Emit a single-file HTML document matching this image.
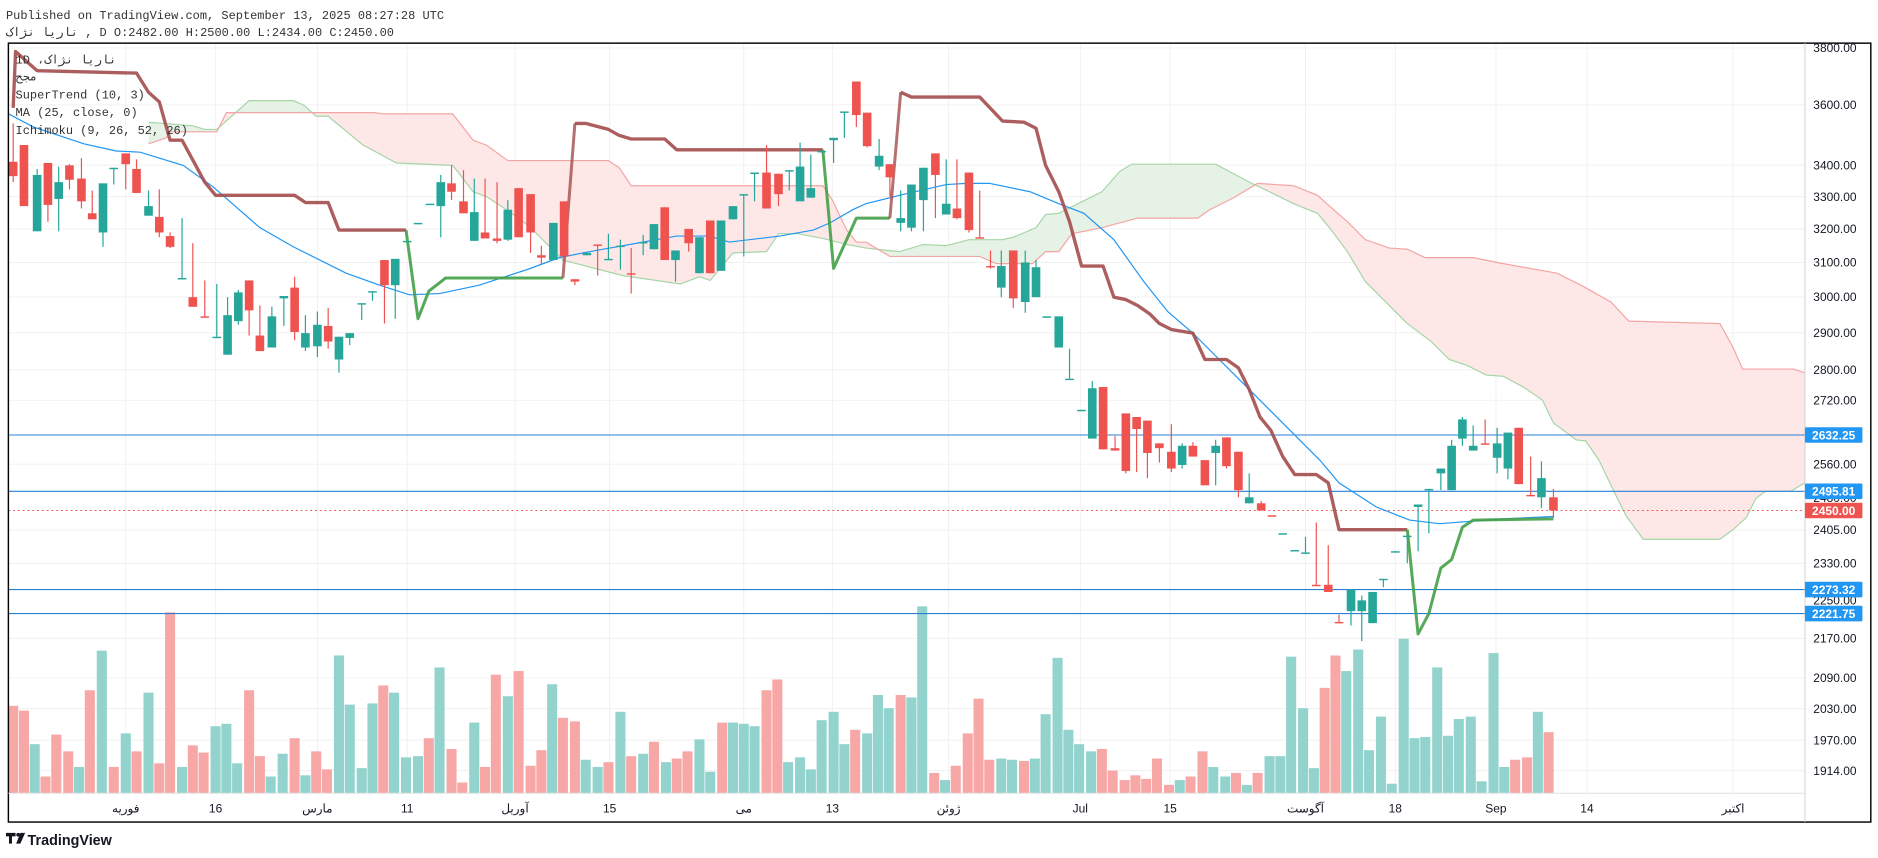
<!DOCTYPE html>
<html><head><meta charset="utf-8"><style>
html,body{margin:0;padding:0;background:#fff;width:1878px;height:858px;overflow:hidden;}
svg{display:block;position:absolute;left:0;top:0;overflow:hidden;}
.mono{font-family:"Liberation Mono","DejaVu Sans Mono","Noto Sans CJK SC",monospace;}
.sans{font-family:"Liberation Sans","DejaVu Sans",sans-serif;}
</style></head><body>
<svg id="s" width="1878" height="858" viewBox="0 0 1568 716" preserveAspectRatio="none" xmlns="http://www.w3.org/2000/svg">
<rect width="1568" height="716" fill="#fff"/>
<text class="mono" x="5" y="16" font-size="10" fill="#333">Published on TradingView.com, September 13, 2025 08:27:28 UTC</text>
<text class="mono" x="5" y="30" font-size="10" fill="#333">ناریا نژاک , D O:2482.00 H:2500.00 L:2434.00 C:2450.00</text>
<g id="grid"></g>
<defs>
<clipPath id="plot"><rect x="7" y="36" width="1500" height="626"/></clipPath>
<clipPath id="belowB"><polygon id="cbB"/></clipPath>
<clipPath id="aboveB"><polygon id="caB"/></clipPath>
</defs>
<g clip-path="url(#plot)">
<g id="cloud"></g>
<g id="vol"></g>
<g id="hl"></g>
<g id="ma"></g>
<g id="st"></g>
<g id="cndl"></g>
</g>
<rect x="7" y="36" width="1555" height="650" fill="none" stroke="#000" stroke-width="1.2"/>
<line x1="1507" y1="36" x2="1507" y2="686" stroke="#d0d0d0" stroke-width="0.8"/>
<line x1="7" y1="662" x2="1507" y2="662" stroke="#e0e0e0" stroke-width="0.8"/>
<g id="axis"></g>
<g class="mono" font-size="10" fill="#333">
<text x="13" y="53">1D ،ناریا نژاک</text>
<text x="13" y="67">مجح</text>
<text x="13" y="82">SuperTrend (10, 3)</text>
<text x="13" y="97">MA (25, close, 0)</text>
<text x="13" y="112">Ichimoku (9, 26, 52, 26)</text>
</g>
<g transform="translate(5,695)">
<path d="M0 0h8v3h-3v6h-2.5v-6h-2.5z" fill="#131722"/>
<circle cx="10.2" cy="1.6" r="1.6" fill="#131722"/>
<path d="M12 0h4l-4 9h-3.5z" fill="#131722"/>
</g>
<text class="sans" x="23" y="705" font-size="12" font-weight="bold" fill="#131722">TradingView</text>
</svg>
<script>
const NS="http://www.w3.org/2000/svg";
function el(p,t,a,txt){const e=document.createElementNS(NS,t);for(const k in a)e.setAttribute(k,a[k]);if(txt!==undefined)e.textContent=txt;document.getElementById(p).appendChild(e);return e;}
const Y=p=>40+879.4*(Math.log(3800)-Math.log(p));
const ticks=[3800,3600,3400,3300,3200,3100,3000,2900,2800,2720,2560,2405,2330,2170,2090,2030,1970,1914];
ticks.forEach(p=>{const y=Y(p);el("grid","line",{x1:7,x2:1507,y1:y,y2:y,stroke:"#f0f0f0","stroke-width":0.8});
 el("axis","text",{x:1514,y:y+3.5,"font-size":10,fill:"#131722","font-family":"Liberation Sans,sans-serif"},p.toFixed(2));});
const dates=[[105,"فوریه"],[180,"16"],[265,"مارس"],[340,"11"],[430,"آوریل"],[509,"15"],[621,"می"],[695,"13"],[792,"ژوئن"],[902,"Jul"],[977,"15"],[1090,"آگوست"],[1165,"18"],[1249,"Sep"],[1325,"14"],[1447,"اکتبر"]];
dates.forEach(d=>{el("grid","line",{x1:d[0],x2:d[0],y1:36,y2:662,stroke:"#f0f0f0","stroke-width":0.8});
 el("axis","text",{x:d[0],y:678,"font-size":10,fill:"#131722","text-anchor":"middle","font-family":"Liberation Sans,Noto Sans CJK SC,sans-serif"},d[1]);});
const A=[[124,102],[161,105],[171,108],[181,108],[208,84],[245,84],[254,88],[264,97],[274,97],[303,121],[331,136],[378,138],[395,160],[406,164],[423,175],[442,189],[456,203],[470,217],[520,230],[568,237],[584,231],[593,234],[612,211],[640,210],[650,195],[666,195],[687,199],[707,204],[723,207],[751,210],[771,204],[790,205],[809,200],[837,200],[846,198],[865,190],[873,179],[884,178],[900,170],[920,160],[935,143],[945,137],[1015,137],[1030,145],[1045,153],[1060,160],[1080,170],[1100,178],[1110,190],[1125,210],[1140,235],[1160,255],[1175,270],[1195,285],[1210,300],[1225,305],[1241,313],[1255,314],[1272,323],[1288,334],[1297,353],[1316,367],[1324,368],[1335,384],[1347,409],[1358,431],[1372,450],[1436,450],[1447,442],[1458,432],[1466,416],[1474,410],[1495,410],[1507,403]];
const B=[[124,120],[139,115],[142,110],[181,110],[189,94],[312,94],[320,95],[378,95],[395,117],[406,121],[424,134],[508,134],[517,140],[527,155],[687,155],[695,167],[707,192],[715,202],[723,202],[743,214],[818,214],[832,220],[862,220],[873,210],[884,210],[895,195],[920,190],[950,182],[1000,182],[1010,175],[1030,165],[1050,153],[1080,155],[1100,163],[1110,172],[1125,185],[1140,200],[1160,207],[1175,208],[1190,215],[1230,215],[1255,220],[1300,228],[1320,238],[1345,252],[1360,268],[1436,270],[1447,290],[1455,308],[1497,308],[1507,311]];
const pts=a=>a.map(p=>p.join(",")).join(" ");
document.getElementById("cbB").setAttribute("points",pts(B)+" 1507,690 124,690");
document.getElementById("caB").setAttribute("points",pts(B)+" 1507,40 124,40");
el("cloud","polygon",{points:pts(A)+" 1507,690 124,690",fill:"#e6f2e5","clip-path":"url(#aboveB)"});
el("cloud","polygon",{points:pts(A)+" 1507,40 124,40",fill:"#fde8e7","clip-path":"url(#belowB)"});
el("cloud","polyline",{points:pts(A),fill:"none",stroke:"#a5d6a7","stroke-width":1});
el("cloud","polyline",{points:pts(B),fill:"none",stroke:"#f3a5a3","stroke-width":1});
const V=[[11,589,'r'],[20,593,'r'],[29,621,'g'],[38,648,'r'],[47,613,'r'],[57,627,'r'],[66,640,'g'],[75,576,'r'],[85,543,'g'],[95,640,'r'],[105,612,'g'],[114,627,'r'],[124,578,'g'],[133,637,'r'],[142,511,'r'],[152,640,'g'],[161,622,'r'],[170,628,'r'],[180,606,'g'],[189,604,'g'],[198,637,'g'],[208,576,'r'],[217,631,'r'],[226,648,'g'],[236,629,'g'],[246,616,'r'],[255,647,'g'],[264,627,'r'],[273,642,'r'],[283,547,'g'],[292,588,'g'],[302,641,'g'],[311,587,'g'],[320,572,'r'],[329,578,'g'],[339,632,'g'],[349,631,'g'],[358,616,'r'],[367,557,'g'],[377,625,'r'],[386,653,'r'],[396,603,'g'],[405,640,'r'],[414,563,'r'],[424,581,'g'],[433,560,'r'],[443,639,'r'],[452,626,'r'],[461,571,'g'],[470,599,'r'],[480,602,'r'],[489,634,'g'],[499,640,'g'],[508,636,'r'],[518,594,'g'],[527,631,'r'],[537,629,'g'],[546,619,'r'],[556,636,'g'],[565,633,'r'],[574,627,'r'],[584,617,'g'],[593,644,'g'],[603,603,'r'],[612,603,'g'],[621,604,'g'],[630,606,'g'],[640,576,'r'],[649,567,'r'],[658,636,'g'],[668,632,'g'],[677,642,'g'],[686,601,'g'],[696,594,'g'],[705,621,'g'],[714,609,'r'],[724,612,'g'],[733,580,'g'],[742,591,'g'],[752,580,'r'],[761,582,'g'],[770,506,'g'],[780,645,'r'],[789,651,'g'],[798,639,'r'],[808,612,'r'],[817,583,'r'],[826,634,'r'],[836,633,'g'],[845,634,'g'],[855,635,'r'],[864,633,'g'],[873,596,'g'],[883,549,'g'],[892,609,'g'],[901,621,'g'],[911,627,'g'],[920,625,'r'],[929,643,'r'],[939,651,'r'],[948,647,'r'],[957,650,'r'],[966,633,'r'],[976,655,'r'],[985,651,'g'],[994,648,'r'],[1004,627,'r'],[1013,640,'g'],[1023,648,'g'],[1032,645,'r'],[1041,655,'g'],[1050,645,'r'],[1060,631,'g'],[1069,631,'g'],[1078,548,'g'],[1088,591,'g'],[1097,641,'g'],[1106,574,'r'],[1115,547,'r'],[1124,560,'g'],[1134,542,'g'],[1143,626,'g'],[1153,598,'g'],[1162,654,'g'],[1172,533,'g'],[1181,616,'g'],[1190,615,'g'],[1200,557,'g'],[1209,614,'g'],[1218,600,'g'],[1228,598,'g'],[1237,652,'g'],[1247,545,'g'],[1256,640,'g'],[1265,634,'r'],[1275,632,'r'],[1284,594,'g'],[1293,611,'r']];
V.forEach(v=>el("vol","rect",{x:v[0]-4.2,y:v[1],width:8.4,height:662-v[1],fill:v[2]=='g'?"#92d3cd":"#f7a8a6"}));
[[363,"#2a7fd5"],[410,"#2a7fd5"],[492,"#2a7fd5"],[512,"#2a7fd5"]].forEach(h=>el("hl","line",{x1:7,x2:1507,y1:h[0],y2:h[0],stroke:h[1],"stroke-width":0.9}));
el("hl","line",{x1:7,x2:1507,y1:426,y2:426,stroke:"#ef5350","stroke-width":0.9,"stroke-dasharray":"1.5 2.5"});
const MA=[[7,95],[28,106],[70,120],[97,126],[117,127],[153,138],[178,156],[217,190],[245,206],[289,228],[317,238],[342,246],[367,245],[400,238],[440,225],[467,215],[487,211],[509,207],[565,197],[592,197],[609,202],[651,197],[679,192],[693,186],[712,175],[723,170],[751,163],[790,154],[807,153],[826,153],[860,160],[884,170],[905,178],[930,200],[955,235],[975,260],[996,278],[1050,332],[1102,384],[1118,403],[1149,423],[1177,434],[1202,437],[1255,433],[1297,431]];
el("ma","polyline",{points:pts(MA),fill:"none",stroke:"#2196f3","stroke-width":1});
const R1=[[11,90],[13,43],[31,59],[114,61],[124,77],[133,85],[142,117],[152,117],[171,152],[180,163],[246,163],[255,169],[274,169],[283,192],[339,192]];
const G1=[[339,192],[349,266],[358,243],[372,232],[470,232]];
const R2=[[480,103],[489,103],[508,108],[517,113],[527,116],[555,116],[565,125],[687,125]];
const G2=[[687,125],[696,224],[715,182],[743,182]];
const R3=[[752,77],[761,81],[818,81],[837,101],[855,102],[865,107],[873,138],[884,160],[893,185],[903,222],[921,222],[930,248],[940,250],[950,255],[960,262],[968,270],[978,275],[996,278],[1006,300],[1024,300],[1034,307],[1043,325],[1052,348],[1061,359],[1071,381],[1081,396],[1099,396],[1109,403],[1118,442],[1175,442]];
const G3=[[1175,442],[1184,529],[1193,512],[1203,474],[1212,467],[1221,440],[1230,434],[1297,433]];
[R1,R2,R3].forEach(r=>el("st","polyline",{points:pts(r),fill:"none",stroke:"#a34d4d","stroke-width":2.8,"stroke-linejoin":"round","stroke-opacity":0.9}));
[G1,G2,G3].forEach(r=>el("st","polyline",{points:pts(r),fill:"none",stroke:"#43a047","stroke-width":2.5,"stroke-linejoin":"round","stroke-opacity":0.9}));
el("st","line",{x1:470,y1:232,x2:480,y2:103,stroke:"#a34d4d","stroke-width":2.5,"stroke-opacity":0.8});
el("st","line",{x1:743,y1:182,x2:752,y2:77,stroke:"#a34d4d","stroke-width":2.5,"stroke-opacity":0.8});
const C=[[11,135,147,103,152,'r'],[20,121,172,121,172,'r'],[31,146,193,141,193,'g'],[40,136,171,136,185,'r'],[49,152,166,139,193,'g'],[58,138,150,137,158,'r'],[68,149,168,132,174,'r'],[77,178,183,159,183,'r'],[86,153,194,153,206,'g'],[95,140,141,140,154,'g'],[105,128,137,128,158,'r'],[114,141,161,133,161,'r'],[124,172,180,159,180,'g'],[133,181,194,158,198,'r'],[142,197,206,194,207,'r'],[152,232,233,182,233,'g'],[161,248,256,203,256,'r'],[171,264,265,234,265,'r'],[181,281,282,237,282,'g'],[190,263,296,248,296,'g'],[199,244,268,242,271,'g'],[208,234,259,234,280,'r'],[217,280,293,255,293,'r'],[227,264,290,256,290,'g'],[237,247,249,247,272,'g'],[246,240,277,231,284,'r'],[255,278,290,263,293,'g'],[265,271,289,260,298,'g'],[274,272,285,257,291,'r'],[283,281,300,281,311,'g'],[292,278,282,278,288,'g'],[302,253,254,253,267,'g'],[311,243,244,243,251,'g'],[321,217,238,217,270,'r'],[330,216,238,216,266,'g'],[340,201,202,201,202,'g'],[349,186,187,186,187,'g'],[359,170,171,170,171,'g'],[368,152,172,146,198,'g'],[377,153,160,138,167,'r'],[387,168,178,142,178,'r'],[396,177,201,149,201,'g'],[405,194,199,149,199,'r'],[415,199,201,152,203,'r'],[424,175,200,167,201,'g'],[433,157,198,157,198,'r'],[443,162,194,162,211,'r'],[452,213,215,205,220,'r'],[462,186,217,186,217,'g'],[471,168,214,168,214,'r'],[480,233,235,233,238,'r'],[490,211,213,211,213,'g'],[499,204,205,204,230,'r'],[508,216,217,195,217,'g'],[518,205,206,200,225,'g'],[527,228,229,207,245,'r'],[537,202,203,196,213,'g'],[546,187,208,187,208,'g'],[555,173,217,173,217,'r'],[564,209,217,209,235,'g'],[575,191,203,191,210,'r'],[584,198,228,198,228,'g'],[593,184,228,184,228,'r'],[602,184,226,184,226,'g'],[612,172,183,172,183,'g'],[621,162,163,162,214,'g'],[630,144,145,144,168,'g'],[640,144,174,121,174,'r'],[650,145,162,145,172,'r'],[659,142,143,142,159,'g'],[668,139,168,119,168,'g'],[677,157,165,129,165,'g'],[686,126,127,126,127,'g'],[696,115,117,115,136,'g'],[705,93,94,93,115,'g'],[715,68,96,68,106,'r'],[724,94,122,94,123,'r'],[734,130,139,116,142,'g'],[743,137,148,137,164,'r'],[752,182,186,159,193,'g'],[761,154,190,154,193,'g'],[771,140,167,140,193,'g'],[781,128,146,128,182,'r'],[790,170,179,133,179,'g'],[799,174,182,133,183,'r'],[809,144,192,144,194,'r'],[818,198,199,159,199,'r'],[827,222,223,209,224,'r'],[836,222,240,209,248,'g'],[846,209,249,209,257,'r'],[856,219,252,209,261,'g'],[865,223,248,217,248,'g'],[874,264,265,264,265,'g'],[884,264,290,264,290,'g'],[893,316,317,291,316,'g'],[903,342,343,342,343,'g'],[912,324,366,318,366,'g'],[921,323,375,323,375,'r'],[931,374,376,364,376,'r'],[940,345,393,345,395,'r'],[949,348,358,348,394,'r'],[958,351,378,351,399,'r'],[968,370,374,370,386,'r'],[978,377,391,354,394,'r'],[987,372,388,370,391,'g'],[996,372,381,369,381,'r'],[1006,384,405,384,405,'r'],[1015,372,378,367,405,'g'],[1024,365,389,365,391,'r'],[1034,377,409,377,415,'r'],[1043,415,420,395,420,'g'],[1053,420,426,418,426,'r'],[1062,430,431,430,431,'r'],[1071,445,446,445,446,'g'],[1081,459,460,459,460,'g'],[1090,461,462,448,462,'g'],[1099,488,489,436,489,'r'],[1109,488,494,455,494,'r'],[1118,519,520,513,520,'r'],[1128,492,510,492,522,'g'],[1137,501,510,497,535,'g'],[1146,494,520,494,520,'g'],[1155,483,484,483,490,'g'],[1165,460,461,460,461,'g'],[1175,447,448,447,470,'g'],[1184,421,423,421,460,'g'],[1193,408,409,408,445,'g'],[1203,391,395,391,409,'g'],[1212,372,409,367,409,'g'],[1221,350,366,348,372,'g'],[1230,372,376,355,376,'g'],[1240,370,371,350,371,'r'],[1250,370,382,357,395,'g'],[1259,361,391,361,400,'g'],[1268,357,404,357,404,'r'],[1278,413,414,381,414,'r'],[1287,399,415,385,424,'g'],[1297,415,426,408,432,'r']];
C.forEach(c=>{const col=c[5]=='g'?"#26a69a":"#ef5350";
 el("cndl","line",{x1:c[0],x2:c[0],y1:c[3],y2:c[4],stroke:col,"stroke-width":1});
 el("cndl","rect",{x:c[0]-3.6,y:c[1],width:7.2,height:Math.max(1.2,c[2]-c[1]),fill:col});});
function lab(y,t,bg){el("axis","rect",{x:1507,y:y-6.5,width:48,height:13,fill:bg,rx:1});
 el("axis","text",{x:1531,y:y+3.6,"font-size":10,"font-weight":"bold",fill:"#fff","text-anchor":"middle","font-family":"Liberation Sans,sans-serif"},t);}
el("axis","text",{x:1514,y:Y(2250)+3.5,"font-size":10,fill:"#131722","font-family":"Liberation Sans,sans-serif"},"2250.00");
el("axis","text",{x:1514,y:Y(2480)+3.5,"font-size":10,fill:"#131722","font-family":"Liberation Sans,sans-serif"},"2480.00");
lab(363,"2632.25","#2196f3");lab(410,"2495.81","#2196f3");lab(426,"2450.00","#ef5350");lab(492,"2273.32","#2196f3");lab(512,"2221.75","#2196f3");
</script>
</body></html>
